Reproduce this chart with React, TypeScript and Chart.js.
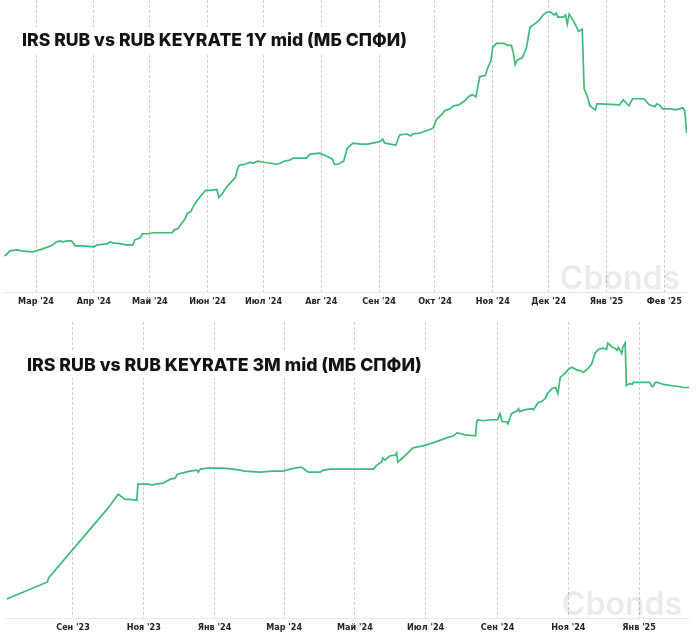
import React, { useEffect, useRef } from "react";
import { Chart, registerables } from "chart.js";

Chart.register(...registerables);

// ---------- Chart 1: IRS RUB vs RUB KEYRATE 1Y ----------
const title1 = "IRS RUB vs RUB KEYRATE 1Y mid (МБ СПФИ)";
const baseDate1 = "2024-03-01"; // day 0 of days1
const days1 = [
  -17, -16, -14, -10, -8, -2, 2, 5, 8, 11, 13, 14, 17, 19, 21, 25, 31, 33, 38, 40,
  41, 46, 48, 52, 53, 56, 57, 60, 63, 67, 73, 74, 76, 78, 80, 81, 83, 84, 86, 89,
  91, 94, 97, 98, 100, 102, 104, 107, 108, 109, 112, 115, 116, 119, 122, 126, 129, 131, 133, 136,
  138, 145, 147, 152, 156, 159, 160, 162, 165, 166, 167, 170, 174, 178, 183, 185, 186, 187, 190, 193,
  195, 199, 201, 202, 206, 209, 212, 213, 215, 218, 219, 222, 224, 227, 230, 232, 234, 236, 238, 241,
  242, 244, 245, 247, 251, 253, 255, 256, 257, 258, 261, 263, 265, 268, 270, 272, 274, 276, 278, 279,
  280, 283, 284, 285, 286, 288, 290, 291, 293, 294, 296, 297, 300, 301, 303, 313, 315, 318, 320, 326,
  328, 329, 332, 333, 335, 336, 341, 343, 347, 348, 349,
];
const values1 = [
  15.04, 15.08, 15.24, 15.28, 15.24, 15.2, 15.28, 15.36, 15.44, 15.6, 15.64, 15.6, 15.64, 15.64, 15.44, 15.44, 15.4, 15.48, 15.52, 15.6,
  15.56, 15.52, 15.48, 15.48, 15.68, 15.76, 15.92, 15.92, 15.96, 15.96, 15.96, 16.08, 16.12, 16.32, 16.52, 16.72, 16.8, 16.96, 17.2, 17.48,
  17.64, 17.64, 17.68, 17.36, 17.52, 17.76, 17.92, 18.16, 18.48, 18.64, 18.68, 18.76, 18.72, 18.8, 18.76, 18.72, 18.68, 18.72, 18.8, 18.84,
  18.92, 18.92, 19.08, 19.12, 19.0, 18.88, 18.68, 18.68, 18.8, 19.08, 19.32, 19.52, 19.48, 19.48, 19.56, 19.6, 19.68, 19.52, 19.48, 19.44,
  19.84, 19.88, 19.8, 19.88, 19.92, 20.0, 20.08, 20.12, 20.48, 20.68, 20.8, 20.88, 21.0, 21.04, 21.2, 21.36, 21.44, 21.36, 22.16, 22.2,
  22.44, 22.8, 23.32, 23.48, 23.48, 23.4, 23.4, 23.12, 22.64, 22.8, 22.92, 23.28, 24.12, 24.28, 24.4, 24.6, 24.72, 24.72, 24.6, 24.68,
  24.52, 24.52, 24.6, 24.24, 24.64, 24.4, 24.12, 23.96, 24.04, 21.68, 21.32, 21.0, 20.84, 21.08, 21.08, 21.04, 21.24, 21.0, 21.28, 21.28,
  21.12, 21.04, 20.96, 21.08, 21.0, 20.88, 20.88, 20.84, 20.92, 20.8, 19.92,
];
const tickDates1 = [
  "2024-03-01", "2024-04-01", "2024-05-01", "2024-06-01", "2024-07-01", "2024-08-01",
  "2024-09-01", "2024-10-01", "2024-11-01", "2024-12-01", "2025-01-01", "2025-02-01",
];
const tickLabels1 = [
  "Мар '24", "Апр '24", "Май '24", "Июн '24", "Июл '24", "Авг '24",
  "Сен '24", "Окт '24", "Ноя '24", "Дек '24", "Янв '25", "Фев '25",
];

// ---------- Chart 2: IRS RUB vs RUB KEYRATE 3M ----------
const title2 = "IRS RUB vs RUB KEYRATE 3M mid (МБ СПФИ)";
const baseDate2 = "2023-09-01"; // day 0 of days2
const days2 = [
  -57, -22, -21, 30, 39, 45, 49, 55, 56, 60, 65, 68, 71, 78, 79, 84, 88, 90, 94, 101,
  107, 108, 110, 116, 121, 129, 138, 144, 148, 161, 172, 181, 187, 196, 198, 203, 209, 213, 216, 222,
  230, 239, 246, 249, 259, 262, 266, 267, 269, 273, 278, 279, 280, 284, 293, 297, 302, 310, 315, 322,
  328, 331, 335, 338, 347, 348, 349, 353, 360, 366, 368, 370, 374, 375, 378, 383, 384, 385, 390, 396,
  397, 401, 404, 407, 409, 413, 416, 418, 420, 424, 427, 430, 435, 437, 440, 444, 447, 450, 453, 457,
  460, 461, 465, 467, 469, 470, 473, 474, 476, 477, 480, 482, 483, 489, 497, 499, 500, 502, 504, 509,
  515, 522, 526, 531,
];
const values2 = [
  9.25, 10.1, 10.3, 13.75, 14.45, 14.2, 14.2, 14.15, 14.95, 14.95, 14.95, 14.9, 14.95, 15.0, 15.05, 15.2, 15.25, 15.45, 15.5, 15.6,
  15.65, 15.55, 15.7, 15.75, 15.75, 15.75, 15.7, 15.65, 15.6, 15.55, 15.6, 15.6, 15.7, 15.8, 15.75, 15.55, 15.55, 15.55, 15.65, 15.7,
  15.7, 15.7, 15.7, 15.7, 15.7, 15.9, 16.05, 16.25, 16.15, 16.35, 16.4, 16.5, 16.05, 16.25, 16.75, 16.8, 16.85, 17.0, 17.1, 17.25,
  17.35, 17.5, 17.45, 17.4, 17.35, 18.05, 18.15, 18.1, 18.15, 18.15, 18.45, 18.05, 18.05, 17.95, 18.45, 18.6, 18.7, 18.55, 18.65, 18.7,
  18.65, 19.0, 19.05, 19.2, 19.45, 19.7, 19.75, 19.45, 20.25, 20.45, 20.65, 20.75, 20.6, 20.6, 20.5, 20.7, 20.9, 21.45, 21.65, 21.7,
  21.65, 21.95, 21.75, 21.7, 21.6, 21.75, 21.45, 21.75, 21.95, 19.85, 19.95, 19.9, 20.0, 20.0, 20.0, 19.8, 19.8, 20.0, 20.0, 19.9,
  19.85, 19.8, 19.75, 19.75,
];
const tickDates2 = [
  "2023-09-01", "2023-11-01", "2024-01-01", "2024-03-01", "2024-05-01",
  "2024-07-01", "2024-09-01", "2024-11-01", "2025-01-01",
];
const tickLabels2 = [
  "Сен '23", "Ноя '23", "Янв '24", "Мар '24", "Май '24",
  "Июл '24", "Сен '24", "Ноя '24", "Янв '25",
];

const LINE_COLOR = "#3dba78";
const WATERMARK = "Cbonds";

const dayDiff = (from: string, to: string) =>
  Math.round((Date.parse(to) - Date.parse(from)) / 86400000);

type Props = {
  title: string;
  titleWidth: number;
  base: string;
  days: number[];
  values: number[];
  tickDates: string[];
  tickLabels: string[];
  xMin: number;
  xMax: number;
  yMin: number;
  yMax: number;
  height: number;
  padding: { left: number; right: number; top: number; bottom: number };
  titleX: number;
  titleCY: number;
};

function LineChart(p: Props) {
  const ref = useRef<HTMLCanvasElement | null>(null);
  useEffect(() => {
    if (!ref.current) return;
    const tickVals = p.tickDates.map((d) => dayDiff(p.base, d));
    const titlePlugin = {
      id: "boxTitle",
      afterDraw(chart: any) {
        const ctx = chart.ctx as CanvasRenderingContext2D;
        ctx.save();
        const fam = "Inter, 'Open Sans', sans-serif";
        ctx.font = `800 20px ${fam}`;
        const w0 = ctx.measureText(p.title).width;
        const size = Math.min(21, (20 * p.titleWidth) / w0);
        ctx.font = `800 ${size}px ${fam}`;
        const w = ctx.measureText(p.title).width;
        ctx.fillStyle = "#ffffff";
        ctx.fillRect(p.titleX - 5, p.titleCY - 13, w + 10, 26);
        ctx.fillStyle = "#121212";
        ctx.textBaseline = "middle";
        ctx.textAlign = "left";
        ctx.fillText(p.title, p.titleX, p.titleCY + 1);
        ctx.restore();
      },
    };
    const watermarkPlugin = {
      id: "watermark",
      beforeDatasetsDraw(chart: any) {
        const ctx = chart.ctx as CanvasRenderingContext2D;
        const a = chart.chartArea;
        ctx.save();
        ctx.font = "600 32px Inter, 'Open Sans', sans-serif";
        ctx.fillStyle = "rgba(0,0,0,0.085)";
        ctx.textAlign = "right";
        ctx.textBaseline = "alphabetic";
        ctx.fillText(WATERMARK, a.right - 7, a.bottom - 3);
        ctx.restore();
      },
    };
    const chart = new Chart(ref.current, {
      type: "line",
      data: {
        datasets: [
          {
            data: p.days.map((d, i) => ({ x: d, y: p.values[i] })),
            borderColor: LINE_COLOR,
            borderWidth: 1.7,
            pointRadius: 0,
            tension: 0,
            fill: false,
          },
        ],
      },
      options: {
        animation: false,
        responsive: false,
        maintainAspectRatio: false,
        layout: { padding: p.padding },
        plugins: {
          legend: { display: false },
          tooltip: { enabled: false },
        },
        scales: {
          x: {
            type: "linear",
            min: p.xMin,
            max: p.xMax,
            afterBuildTicks: (s: any) => {
              s.ticks = tickVals.map((v) => ({ value: v }));
            },
            ticks: {
              autoSkip: false,
              maxRotation: 0,
              minRotation: 0,
              padding: 4,
              color: "#222222",
              font: {
                family: "'DejaVu Sans Condensed', 'Liberation Sans Narrow', Roboto, sans-serif",
                size: 9,
                weight: "bold",
              },
              callback: (_v: any, i: number) => p.tickLabels[i] ?? "",
            },
            grid: {
              color: "#cdcdcd",
              lineWidth: 1,
              drawTicks: false,
            },
            border: {
              display: true,
              color: "#e8e8e8",
              width: 1,
              dash: [3, 2],
            },
          },
          y: {
            display: false,
            min: p.yMin,
            max: p.yMax,
          },
        },
      },
      plugins: [watermarkPlugin, titlePlugin],
    } as any);
    return () => chart.destroy();
  }, []);
  return (
    <div style={{ width: 700, height: p.height, position: "relative" }}>
      <canvas ref={ref} width={700} height={p.height} style={{ display: "block" }} />
    </div>
  );
}

export default function App() {
  useEffect(() => {
    document.body.style.margin = "0";
    document.body.style.background = "#ffffff";
  }, []);
  return (
    <div style={{ width: 700, background: "#ffffff" }}>
      <LineChart
        title={title1}
        titleWidth={385}
        base={baseDate1}
        days={days1}
        values={values1}
        tickDates={tickDates1}
        tickLabels={tickLabels1}
        xMin={-17.2}
        xMax={349.2}
        yMin={13.6}
        yMax={25.2}
        height={320}
        padding={{ left: 4, right: 13, top: 0, bottom: 9 }}
        titleX={22}
        titleCY={40}
      />
      <LineChart
        title={title2}
        titleWidth={395}
        base={baseDate2}
        days={days2}
        values={values2}
        tickDates={tickDates2}
        tickLabels={tickLabels2}
        xMin={-58.6}
        xMax={531}
        yMin={8.3}
        yMax={23}
        height={318}
        padding={{ left: 5, right: 11, top: 2, bottom: 1 }}
        titleX={27}
        titleCY={45}
      />
    </div>
  );
}
